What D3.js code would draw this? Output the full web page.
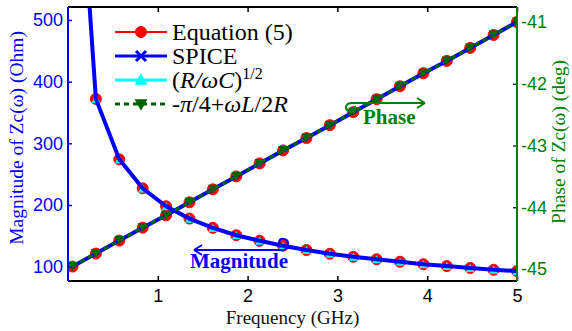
<!DOCTYPE html>
<html><head><meta charset="utf-8">
<script src="https://cdn.jsdelivr.net/npm/d3@7"></script>
<style>
html,body{margin:0;padding:0;background:#fff;}
svg{display:block;}
</style></head>
<body>
<svg id="chart" width="572" height="331"></svg>
<script>
// ---- data ----
const freq = [0.05, 0.3105, 0.5711, 0.8316, 1.0921, 1.3526, 1.6132, 1.8737, 2.1342, 2.3947,
              2.6553, 2.9158, 3.1763, 3.4368, 3.6974, 3.9579, 4.2184, 4.4789, 4.7395, 5.0];
const magnitude = [927, 372, 274, 227, 198, 178, 163, 151, 142, 134,
                   127, 121, 116, 112, 108, 104, 101, 98, 95, 93];
const phase = [-44.96, -44.75, -44.54, -44.33, -44.13, -43.92, -43.71, -43.50, -43.29, -43.08,
               -42.88, -42.67, -42.46, -42.25, -42.04, -41.83, -41.63, -41.42, -41.21, -41.00];
const xTicks = [1, 2, 3, 4, 5];
const magTicks = [100, 200, 300, 400, 500];
const phaseTicks = [-45, -44, -43, -42, -41];
const legendLabels = ["Equation (5)", "SPICE", "(R/ωC)^1/2", "-π/4+ωL/2R"];

// ---- layout ----
const L = 68, R = 517, T = 7, B = 281;
const BLUE = "#0000ff", GREEN = "#008000", RED = "#ff0000", CYAN = "#00ffff", DGREEN = "#006400";
const svg = d3.select("#chart");

const x = d3.scaleLinear().domain([0, 5]).range([L, R]);
const yM = d3.scaleLinear().domain([76.8, 521]).range([B, T]);
const yP = d3.scaleLinear().domain([-45.194, -40.757]).range([B, T]);

svg.append("defs").append("clipPath").attr("id", "clip")
  .append("rect").attr("x", L).attr("y", T).attr("width", R - L).attr("height", B - T);

const magData = freq.map((f, i) => [f, magnitude[i]]);
const phData = freq.map((f, i) => [f, phase[i]]);
const lineM = d3.line().x(d => x(d[0])).y(d => yM(d[1]));
const lineP = d3.line().x(d => x(d[0])).y(d => yP(d[1]));

const plot = svg.append("g").attr("clip-path", "url(#clip)");

// marker helpers
function circle(g, cx, cy, r, col) {
  g.append("circle").attr("cx", cx).attr("cy", cy).attr("r", r).attr("fill", col).attr("stroke", col);
}
function tri(g, cx, cy, s, col, down) {
  const h = s * 0.9;
  const pts = down
    ? [[cx - s / 2, cy - h / 2], [cx + s / 2, cy - h / 2], [cx, cy + h / 2]]
    : [[cx - s / 2, cy + h / 2], [cx + s / 2, cy + h / 2], [cx, cy - h / 2]];
  g.append("polygon").attr("points", pts.map(p => p.join(",")).join(" ")).attr("fill", col);
}
function cross(g, cx, cy, s, col, w) {
  g.append("path").attr("d", `M${cx - s},${cy - s}L${cx + s},${cy + s}M${cx - s},${cy + s}L${cx + s},${cy - s}`)
    .attr("stroke", col).attr("stroke-width", w).attr("fill", "none");
}

// Equation (5): red
[ [magData, lineM, yM], [phData, lineP, yP] ].forEach(([d, ln, ys]) => {
  plot.append("path").attr("d", ln(d)).attr("fill", "none").attr("stroke", RED).attr("stroke-width", 2);
  d.forEach(p => circle(plot, x(p[0]), ys(p[1]), 5.5, RED));
});
// (R/wC)^1/2 : cyan, magnitude only
plot.append("path").attr("d", lineM(magData)).attr("fill", "none").attr("stroke", CYAN).attr("stroke-width", 2);
magData.forEach(p => tri(plot, x(p[0]), yM(p[1]), 9, CYAN, false));
// SPICE : blue
[ [magData, lineM, yM], [phData, lineP, yP] ].forEach(([d, ln, ys]) => {
  plot.append("path").attr("d", ln(d)).attr("fill", "none").attr("stroke", BLUE).attr("stroke-width", 4);
});
// -pi/4 + wL/2R : green dashed, phase only
plot.append("path").attr("d", lineP(phData)).attr("fill", "none").attr("stroke", DGREEN)
  .attr("stroke-width", 3).attr("stroke-dasharray", "5,4");
phData.forEach(p => tri(plot, x(p[0]), yP(p[1]), 10, DGREEN, true));

// ---- axes ----
const tickFont = "Liberation Sans, Arial, sans-serif";
// bottom
const xAxisB = d3.axisBottom(x).tickValues(xTicks).tickFormat(d3.format("d")).tickSize(-5).tickPadding(8);
const gb = svg.append("g").attr("transform", `translate(0,${B})`).call(xAxisB);
gb.select(".domain").remove();
gb.selectAll("line").attr("stroke", "#000").attr("stroke-width", 1.5);
gb.selectAll("text").attr("font-family", tickFont).attr("font-size", 18).attr("fill", "#000");
// top
const xAxisT = d3.axisTop(x).tickValues(xTicks).tickSize(-5).tickFormat("");
const gt = svg.append("g").attr("transform", `translate(0,${T})`).call(xAxisT);
gt.select(".domain").remove();
gt.selectAll("line").attr("stroke", "#000").attr("stroke-width", 1.5);
svg.append("line").attr("x1", L).attr("x2", R).attr("y1", T).attr("y2", T).attr("stroke", "#000").attr("stroke-width", 2);
svg.append("line").attr("x1", L).attr("x2", R).attr("y1", B).attr("y2", B).attr("stroke", "#000").attr("stroke-width", 2);
// left
const yAxisL = d3.axisLeft(yM).tickValues(magTicks).tickSize(-4).tickPadding(5);
const gl = svg.append("g").attr("transform", `translate(${L},0)`).call(yAxisL);
gl.select(".domain").remove();
gl.selectAll("line").attr("stroke", BLUE).attr("stroke-width", 1.5);
gl.selectAll("text").attr("font-family", tickFont).attr("font-size", 18).attr("fill", BLUE);
svg.append("line").attr("x1", L).attr("x2", L).attr("y1", T).attr("y2", B).attr("stroke", BLUE).attr("stroke-width", 2);
// right
const yAxisR = d3.axisRight(yP).tickValues(phaseTicks).tickSize(-4).tickPadding(4).tickFormat(d => "-" + Math.abs(d));
const gr = svg.append("g").attr("transform", `translate(${R},0)`).call(yAxisR);
gr.select(".domain").remove();
gr.selectAll("line").attr("stroke", "#333").attr("stroke-width", 1.5);
gr.selectAll("text").attr("font-family", tickFont).attr("font-size", 18).attr("fill", GREEN);
svg.append("line").attr("x1", R).attr("x2", R).attr("y1", T).attr("y2", B).attr("stroke", GREEN).attr("stroke-width", 2);

// ---- titles ----
const serif = "Liberation Serif, Times New Roman, serif";
svg.append("text").attr("x", (L + R) / 2).attr("y", 324).attr("text-anchor", "middle")
  .attr("font-family", serif).attr("font-size", 19).attr("fill", "#111").text("Frequency (GHz)");
svg.append("text").attr("transform", `translate(23,138) rotate(-90)`).attr("text-anchor", "middle")
  .attr("font-family", serif).attr("font-size", 19.5).attr("fill", BLUE).text("Magnitude of Zc(ω) (Ohm)");
svg.append("text").attr("transform", `translate(565,142) rotate(-90)`).attr("text-anchor", "middle")
  .attr("font-family", serif).attr("font-size", 19.5).attr("fill", GREEN).text("Phase of Zc(ω) (deg)");

// ---- legend ----
const lg = svg.append("g");
const rowY = [32, 56, 80, 104];
const lx1 = 115, lx2 = 167, lmx = 141, ltx = 172;
const lfs = 24;
// row 1
lg.append("line").attr("x1", lx1).attr("x2", lx2).attr("y1", rowY[0]).attr("y2", rowY[0]).attr("stroke", RED).attr("stroke-width", 2);
circle(lg, lmx, rowY[0], 5.5, RED);
// row 2
lg.append("line").attr("x1", lx1).attr("x2", lx2).attr("y1", rowY[1]).attr("y2", rowY[1]).attr("stroke", BLUE).attr("stroke-width", 3);
cross(lg, lmx, rowY[1], 5, BLUE, 3);
// row 3
lg.append("line").attr("x1", lx1).attr("x2", lx2).attr("y1", rowY[2]).attr("y2", rowY[2]).attr("stroke", CYAN).attr("stroke-width", 3);
tri(lg, lmx, rowY[2] - 1, 13, CYAN, false);
// row 4
lg.append("line").attr("x1", lx1).attr("x2", lx2).attr("y1", rowY[3]).attr("y2", rowY[3]).attr("stroke", DGREEN)
  .attr("stroke-width", 3).attr("stroke-dasharray", "5,4");
tri(lg, lmx, rowY[3] + 1, 13, DGREEN, true);

function ltext(i) {
  return lg.append("text").attr("x", ltx).attr("y", rowY[i] + 8).attr("font-family", serif)
    .attr("font-size", lfs).attr("fill", "#000");
}
ltext(0).text(legendLabels[0]);
ltext(1).text(legendLabels[1]);
{
  const t = ltext(2);
  t.append("tspan").text("(");
  t.append("tspan").attr("font-style", "italic").text("R/ωC");
  t.append("tspan").text(")");
  t.append("tspan").attr("font-size", 16).attr("dy", -9).text("1/2");
}
{
  const t = ltext(3);
  t.append("tspan").text("-");
  t.append("tspan").attr("font-style", "italic").text("π");
  t.append("tspan").text("/4+");
  t.append("tspan").attr("font-style", "italic").text("ωL");
  t.append("tspan").text("/2");
  t.append("tspan").attr("font-style", "italic").text("R");
}

// ---- annotations ----
const ann = svg.append("g");
// Magnitude arrow
ann.append("path").attr("d", "M283,250L194,250M194,250L202,245M194,250L202,255")
  .attr("stroke", BLUE).attr("stroke-width", 2).attr("fill", "none");
ann.append("path").attr("d", "M283,250C289,249 290,240 284,239C279,238 277,244 281,247")
  .attr("stroke", BLUE).attr("stroke-width", 2).attr("fill", "none");
ann.append("text").attr("x", 190).attr("y", 268).attr("font-family", serif).attr("font-weight", "bold")
  .attr("font-size", 21).attr("fill", BLUE).text("Magnitude");
// Phase arrow
ann.append("path").attr("d", "M352,103L425,103M425,103L417,98M425,103L417,108")
  .attr("stroke", GREEN).attr("stroke-width", 2).attr("fill", "none");
ann.append("path").attr("d", "M352,103C346,103 344,108 348,111C352,113 356,110 355,106")
  .attr("stroke", GREEN).attr("stroke-width", 2).attr("fill", "none");
ann.append("text").attr("x", 363).attr("y", 124).attr("font-family", serif).attr("font-weight", "bold")
  .attr("font-size", 21).attr("fill", GREEN).text("Phase");
</script>
</body></html>
